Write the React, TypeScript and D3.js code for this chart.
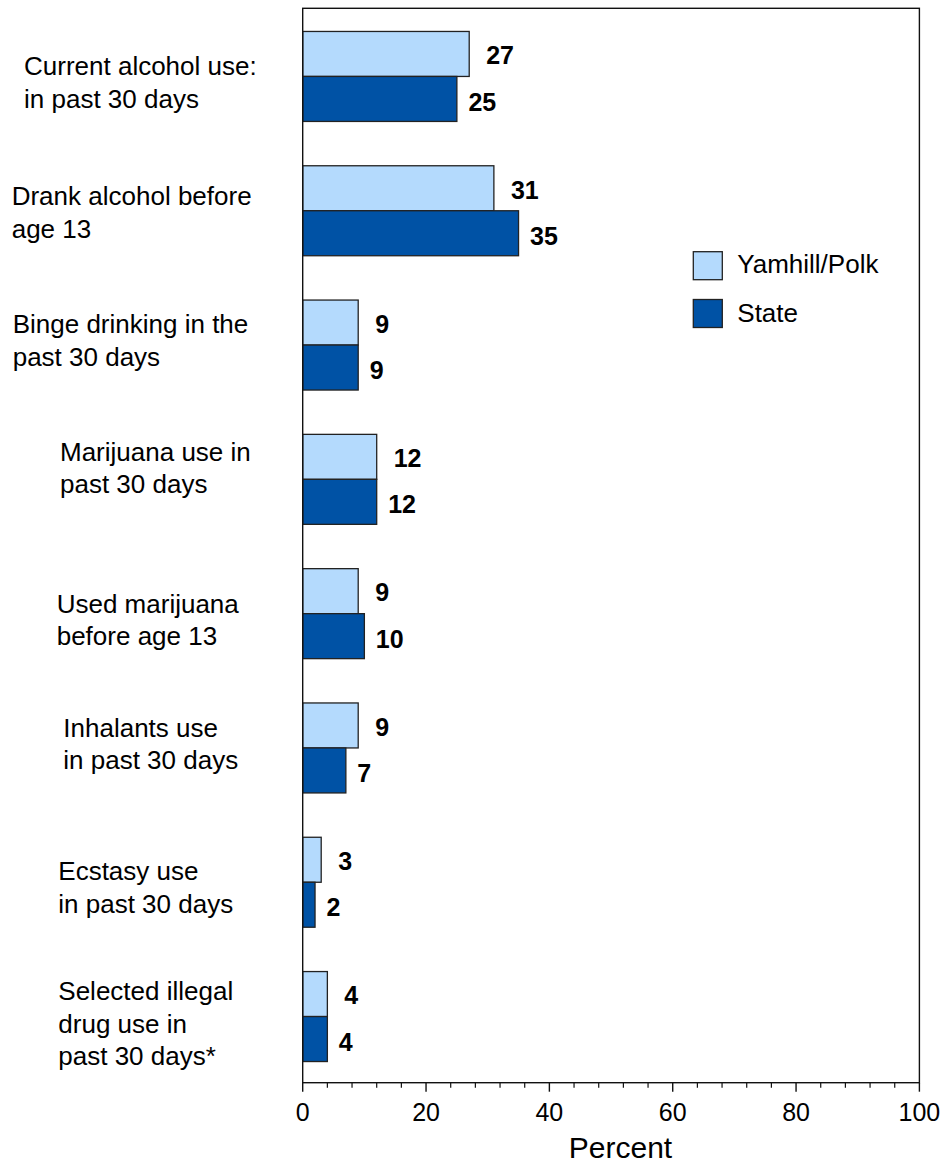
import React from "react";
import * as d3 from "d3";

const categories: string[][] = [
  ["Current alcohol use:", "in past 30 days"],
  ["Drank alcohol before", "age 13"],
  ["Binge drinking in the", "past 30 days"],
  ["Marijuana use in", "past 30 days"],
  ["Used marijuana", "before age 13"],
  ["Inhalants use", "in past 30 days"],
  ["Ecstasy use", "in past 30 days"],
  ["Selected illegal", "drug use in", "past 30 days*"],
];
const yamhillPolk: number[] = [27, 31, 9, 12, 9, 9, 3, 4];
const state: number[] = [25, 35, 9, 12, 10, 7, 2, 4];
const seriesNames: string[] = ["Yamhill/Polk", "State"];
const xTicks: number[] = [0, 20, 40, 60, 80, 100];

// layout (not data): category label placement relative to band centre
const labelX: number[] = [24, 11.7, 12.7, 60, 56.7, 63.3, 58.3, 58.3];
const labelDy: number[] = [-1.4, -5.7, -11.7, -18.6, -0.9, -11.2, -2.2, -16.5];

const W = 950;
const H = 1165;
const left = 302.7;
const right = 919.4;
const top = 8.3;
const bottom = 1082.7;
const colors = ["#b4dafd", "#0052a5"];
const font = "'Liberation Sans', Arial, Helvetica, sans-serif";

export default function App() {
  const x = d3.scaleLinear().domain([0, 100]).range([left, right]);
  const idx = categories.map((_, i) => String(i));
  const y = d3
    .scaleBand<string>()
    .domain(idx)
    .range([top + 1, bottom + 1])
    .paddingInner(0.33)
    .paddingOuter(0.165);
  const ys = d3
    .scaleBand<string>()
    .domain(seriesNames)
    .range([0, y.bandwidth()]);
  const series = [yamhillPolk, state];
  const minorTicks = d3.range(0, 101, 4).filter((t) => t % 20 !== 0);

  return (
    <svg
      width={W}
      height={H}
      style={{ position: "absolute", left: 0, top: 0, background: "#fff" }}
      fontFamily={font}
    >
      <rect x={0} y={0} width={W} height={H} fill="#fff" />
      {/* bars */}
      {series.map((vals, s) =>
        vals.map((v, i) => {
          const by = (y(String(i)) as number) + (ys(seriesNames[s]) as number);
          const bh = ys.bandwidth();
          return (
            <g key={`b${s}-${i}`}>
              <rect
                x={x(0)}
                y={by}
                width={x(v) - x(0)}
                height={bh}
                fill={colors[s]}
                stroke="#222"
                strokeWidth={1.3}
              />
              <text
                x={x(v) + (s === 0 ? 17 : 11.5)}
                y={by + bh / 2 + (s === 0 ? 10.3 : 11.6)}
                fontSize={25}
                fontWeight="bold"
                fill="#000"
              >
                {v}
              </text>
            </g>
          );
        })
      )}
      {/* frame */}
      <rect
        x={left}
        y={top}
        width={right - left}
        height={bottom - top}
        fill="none"
        stroke="#111"
        strokeWidth={1.4}
      />
      {/* x ticks */}
      {xTicks.map((t) => (
        <g key={`t${t}`}>
          <line x1={x(t)} x2={x(t)} y1={bottom} y2={bottom + 9} stroke="#111" strokeWidth={1.4} />
          <text x={x(t)} y={1120.7} fontSize={25} textAnchor="middle" fill="#000">
            {t}
          </text>
        </g>
      ))}
      {minorTicks.map((t) => (
        <line key={`m${t}`} x1={x(t)} x2={x(t)} y1={bottom} y2={bottom + 5} stroke="#111" strokeWidth={1.2} />
      ))}
      <text x={620.5} y={1158.3} fontSize={30} textAnchor="middle" fill="#000">
        Percent
      </text>
      {/* category labels */}
      {categories.map((lines, i) => {
        const c = (y(String(i)) as number) + y.bandwidth() / 2;
        return (
          <text key={`c${i}`} x={labelX[i]} y={c + labelDy[i]} fontSize={26} fill="#000">
            {lines.map((ln, k) => (
              <tspan key={k} x={labelX[i]} dy={k === 0 ? 0 : 32.5}>
                {ln}
              </tspan>
            ))}
          </text>
        );
      })}
      {/* legend */}
      {seriesNames.map((n, s) => (
        <g key={`l${s}`}>
          <rect
            x={693.3}
            y={251.7 + s * 47.8}
            width={29}
            height={28}
            fill={colors[s]}
            stroke="#222"
            strokeWidth={1.3}
          />
          <text x={737.3} y={273.3 + s * 48.4} fontSize={26} fill="#000">
            {n}
          </text>
        </g>
      ))}
    </svg>
  );
}
